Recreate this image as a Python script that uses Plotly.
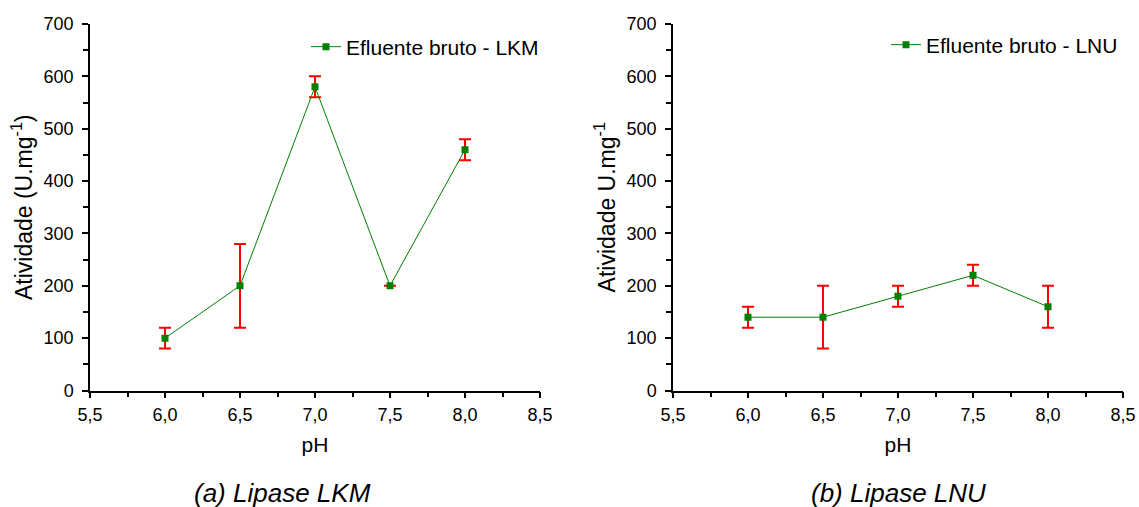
import plotly.graph_objects as go
from plotly.subplots import make_subplots

ph = [6.0, 6.5, 7.0, 7.5, 8.0]
lkm = [100, 200, 580, 200, 460]
lkm_err = [20, 80, 20, 0, 20]
lnu = [140, 140, 180, 220, 160]
lnu_err = [20, 60, 20, 20, 40]

x_ticks = [5.5, 6.0, 6.5, 7.0, 7.5, 8.0, 8.5]
x_ticktext = ["5,5", "6,0", "6,5", "7,0", "7,5", "8,0", "8,5"]
y_ticks = [0, 100, 200, 300, 400, 500, 600, 700]

FONT = "Liberation Sans, Arial, sans-serif"
GREEN = "#008000"
RED = "#ff0000"

fig = make_subplots(rows=1, cols=2)

fig.add_trace(go.Scatter(
    x=ph, y=lkm, mode="lines+markers", name="Efluente bruto - LKM",
    line=dict(color=GREEN, width=1),
    marker=dict(symbol="square", size=7, color=GREEN),
    error_y=dict(type="data", array=lkm_err, color=RED, thickness=2, width=6),
    legend="legend", showlegend=True,
), row=1, col=1)

fig.add_trace(go.Scatter(
    x=ph, y=lnu, mode="lines+markers", name="Efluente bruto - LNU",
    line=dict(color=GREEN, width=1),
    marker=dict(symbol="square", size=7, color=GREEN),
    error_y=dict(type="data", array=lnu_err, color=RED, thickness=2, width=6),
    legend="legend2", showlegend=True,
), row=1, col=2)

W, H = 1139, 507
ydom = [1 - 390.5 / H, 1 - 24 / H]

axis_common = dict(
    showline=True, linecolor="black", linewidth=1.5,
    ticks="outside", ticklen=6, tickwidth=1.5, tickcolor="black",
    showgrid=False, zeroline=False, mirror=False, automargin=False,
    tickfont=dict(family=FONT, size=18, color="black"),
)

fig.update_xaxes(
    range=[5.5, 8.5], tickvals=x_ticks, ticktext=x_ticktext,
    minor=dict(ticks="outside", ticklen=5, tickwidth=1.5, tickcolor="black", dtick=0.25, tick0=5.5),
    title=dict(text="pH", font=dict(family=FONT, size=21, color="black"), standoff=13),
    ticklabelstandoff=1,
    **axis_common,
)
fig.update_yaxes(
    range=[0, 700], tickvals=y_ticks,
    minor=dict(ticks="outside", ticklen=5, tickwidth=1.5, tickcolor="black", dtick=50, tick0=0),
    ticklabelstandoff=5,
    **axis_common,
)

fig.update_layout(
    xaxis=dict(domain=[90 / W, 540 / W]),
    xaxis2=dict(domain=[673 / W, 1123 / W]),
    yaxis=dict(domain=ydom, title=dict(text="Atividade (U.mg<sup>-1</sup>)",
               font=dict(family=FONT, size=23, color="black"), standoff=5)),
    yaxis2=dict(domain=ydom, title=dict(text="Atividade U.mg<sup>-1</sup>",
                font=dict(family=FONT, size=23, color="black"), standoff=5)),
    width=W, height=H,
    margin=dict(l=0, r=0, t=0, b=0),
    paper_bgcolor="white", plot_bgcolor="white",
    font=dict(family=FONT, color="black"),
    showlegend=True,
    legend=dict(x=306 / W, y=1 - 47 / H, xanchor="left", yanchor="middle",
                bgcolor="rgba(0,0,0,0)", font=dict(family=FONT, size=21, color="black")),
    legend2=dict(x=886 / W, y=1 - 45 / H, xanchor="left", yanchor="middle",
                 bgcolor="rgba(0,0,0,0)", font=dict(family=FONT, size=21, color="black")),
    annotations=[
        dict(text="<i>(a) Lipase LKM</i>", x=282 / W, y=1 - 493 / H, xref="paper", yref="paper",
             showarrow=False, xanchor="center", yanchor="middle",
             font=dict(family=FONT, size=26, color="black")),
        dict(text="<i>(b) Lipase LNU</i>", x=898 / W, y=1 - 493 / H, xref="paper", yref="paper",
             showarrow=False, xanchor="center", yanchor="middle",
             font=dict(family=FONT, size=26, color="black")),
    ],
)

fig.write_html(
    "out.html",
    config={"displayModeBar": False},
    post_script="document.body.style.margin='0';document.body.style.padding='0';document.body.style.overflow='hidden';",
)
